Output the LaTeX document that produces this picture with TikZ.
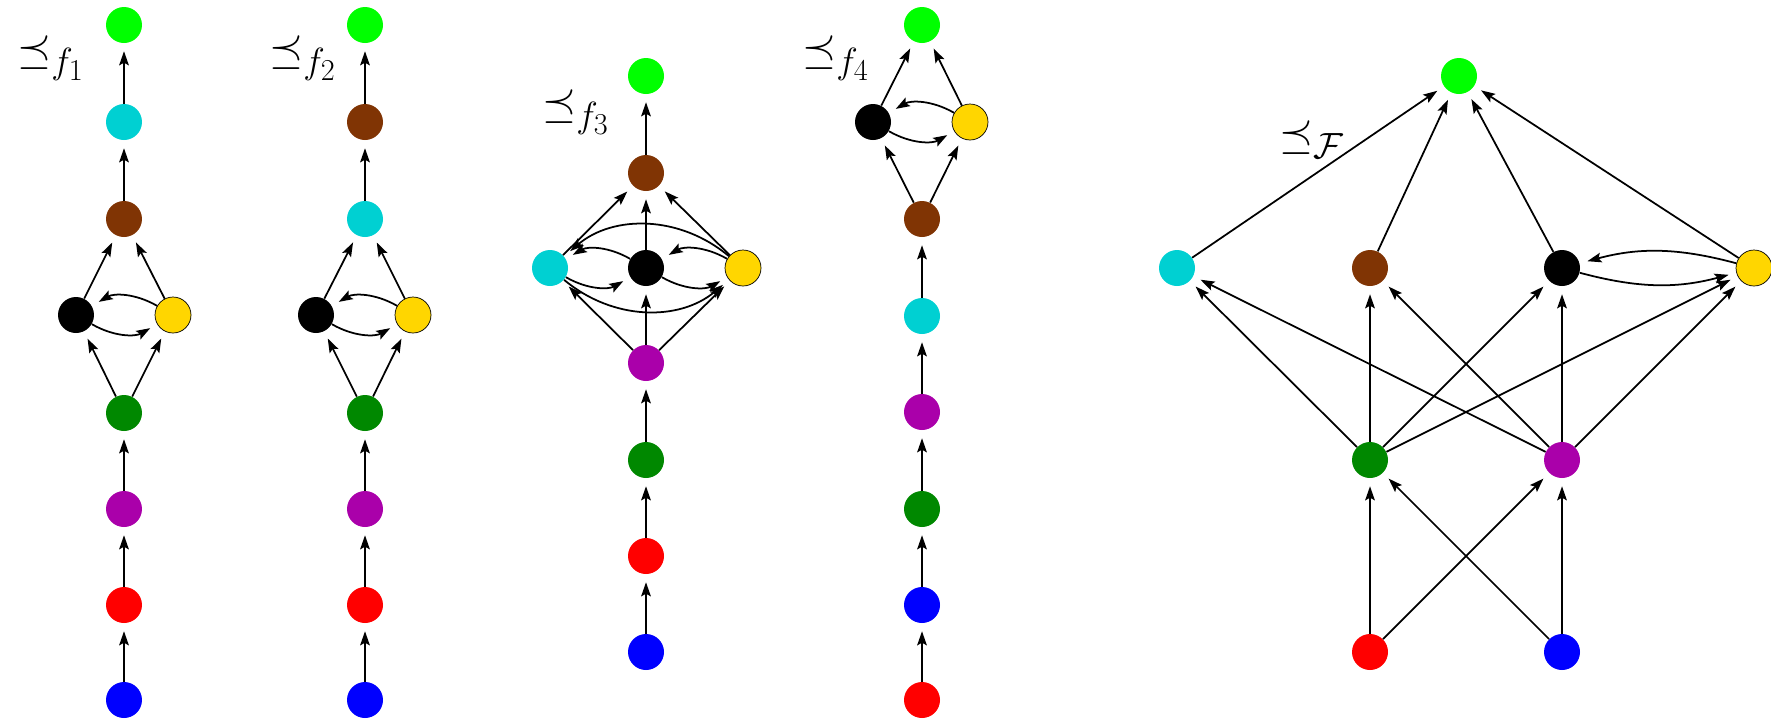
\documentclass[tikz,border=0pt]{standalone}
\usetikzlibrary{arrows.meta}
\definecolor{cgreen}{RGB}{0, 255, 0}
\definecolor{ccyan}{RGB}{0, 208, 210}
\definecolor{cbrown}{RGB}{128, 52, 4}
\definecolor{cyellow}{RGB}{255, 214, 0}
\definecolor{cdgreen}{RGB}{0, 136, 0}
\definecolor{cpurple}{RGB}{170, 0, 170}
\definecolor{cred}{RGB}{255, 0, 0}
\definecolor{cblue}{RGB}{0, 0, 255}
\tikzset{
  vtx/.style={circle, minimum size=0.72cm, inner sep=0pt},
  arr/.style={-{Stealth[length=8pt, width=5.5pt, inset=1.5pt]}, line width=1pt, shorten >=4.5pt},
  lbl/.style={font=\fontsize{32}{36}\selectfont}
}

\begin{document}
\begin{tikzpicture}[x=0.02cm, y=-0.02cm]
      \useasboundingbox (0,0) rectangle (1771,718);
      % order f1
      \foreach \c/\y in {cgreen/25, ccyan/122, cbrown/219, cdgreen/413, cpurple/509, cred/605, cblue/700} {
        \node[vtx, fill=\c] (a\c) at (124,\y) {};
      }
      \node[vtx, fill=black] (ablack) at (76,315) {};
      \node[vtx, fill=cyellow, draw] (ayellow) at (173,315) {};
      \foreach \s/\t in {cblue/cred, cred/cpurple, cpurple/cdgreen, cdgreen/black, cdgreen/yellow,
                         black/cbrown, yellow/cbrown, cbrown/ccyan, ccyan/cgreen} {
        \draw[arr] (a\s) to (a\t);
      }
      \draw[arr] (ablack) to[bend right=30] (ayellow);
      \draw[arr] (ayellow) to[bend right=30] (ablack);
      \node[lbl] (alabel) at (51,58) {$\preceq_{f_1}$};
      % order f2
      \foreach \c/\y in {cgreen/25, cbrown/122, ccyan/219, cdgreen/413, cpurple/509, cred/605, cblue/700} {
        \node[vtx, fill=\c] (b\c) at (365,\y) {};
      }
      \node[vtx, fill=black] (bblack) at (316,315) {};
      \node[vtx, fill=cyellow, draw] (byellow) at (413,315) {};
      \foreach \s/\t in {cblue/cred, cred/cpurple, cpurple/cdgreen, cdgreen/black, cdgreen/yellow,
                         black/ccyan, yellow/ccyan, ccyan/cbrown, cbrown/cgreen} {
        \draw[arr] (b\s) to (b\t);
      }
      \draw[arr] (bblack) to[bend right=30] (byellow);
      \draw[arr] (byellow) to[bend right=30] (bblack);
      \node[lbl] (blabel) at (303,58) {$\preceq_{f_2}$};
      % order f3
      \foreach \c/\y in {cgreen/76, cbrown/173, cpurple/363, cdgreen/460, cred/556, cblue/652} {
        \node[vtx, fill=\c] (c\c) at (646,\y) {};
      }
      \node[vtx, fill=ccyan] (cccyan) at (550,268) {};
      \node[vtx, fill=black] (cblack) at (646,268) {};
      \node[vtx, fill=cyellow, draw] (cyellow) at (743,268) {};
      \foreach \s/\t in {cblue/cred, cred/cdgreen, cdgreen/cpurple, cpurple/ccyan, cpurple/black, cpurple/yellow,
                         ccyan/cbrown, black/cbrown, yellow/cbrown, cbrown/cgreen} {
        \draw[arr] (c\s) to (c\t);
      }
      \draw[arr] (cccyan) to[bend right=30] (cblack);
      \draw[arr] (cblack) to[bend right=30] (cccyan);
      \draw[arr] (cblack) to[bend right=30] (cyellow);
      \draw[arr] (cyellow) to[bend right=30] (cblack);
      \draw[arr] (cccyan) to[bend right=40] (cyellow);
      \draw[arr] (cyellow) to[bend right=40] (cccyan);
      \node[lbl] (clabel) at (576,112) {$\preceq_{f_3}$};
      % order f4
      \foreach \c/\y in {cgreen/25, cbrown/219, ccyan/316, cpurple/412, cdgreen/509, cblue/605, cred/700} {
        \node[vtx, fill=\c] (d\c) at (922,\y) {};
      }
      \node[vtx, fill=black] (dblack) at (873,122) {};
      \node[vtx, fill=cyellow, draw] (dyellow) at (970,122) {};
      \foreach \s/\t in {cred/cblue, cblue/cdgreen, cdgreen/cpurple, cpurple/ccyan, ccyan/cbrown,
                         cbrown/black, cbrown/yellow, black/cgreen, yellow/cgreen} {
        \draw[arr] (d\s) to (d\t);
      }
      \draw[arr] (dblack) to[bend right=30] (dyellow);
      \draw[arr] (dyellow) to[bend right=30] (dblack);
      \node[lbl] (dlabel) at (836,58) {$\preceq_{f_4}$};
      % order F
      \node[vtx, fill=cgreen] (egreen) at (1459,76) {};
      \node[vtx, fill=ccyan] (ecyan) at (1177,268) {};
      \node[vtx, fill=cbrown] (ebrown) at (1370,268) {};
      \node[vtx, fill=black] (eblack) at (1562,268) {};
      \node[vtx, fill=cyellow, draw] (eyellow) at (1754,268) {};
      \node[vtx, fill=cdgreen] (edgreen) at (1370,460) {};
      \node[vtx, fill=cpurple] (epurple) at (1562,460) {};
      \node[vtx, fill=cred] (ered) at (1370,652) {};
      \node[vtx, fill=cblue] (eblue) at (1562,652) {};
      \foreach \s in {cyan, brown, black, yellow} {
        \draw[arr] (e\s) to (egreen);
        \draw[arr] (edgreen) to (e\s);
        \draw[arr] (epurple) to (e\s);
      }
      \foreach \s in {red, blue} {
        \draw[arr] (e\s) to (edgreen);
        \draw[arr] (e\s) to (epurple);
      }
      \draw[arr] (eblack) to[bend right=15] (eyellow);
      \draw[arr] (eyellow) to[bend right=15] (eblack);
      \node[lbl] (elabel) at (1312,140) {$\preceq_{\mathcal{F}}$};
\end{tikzpicture}
\end{document}
